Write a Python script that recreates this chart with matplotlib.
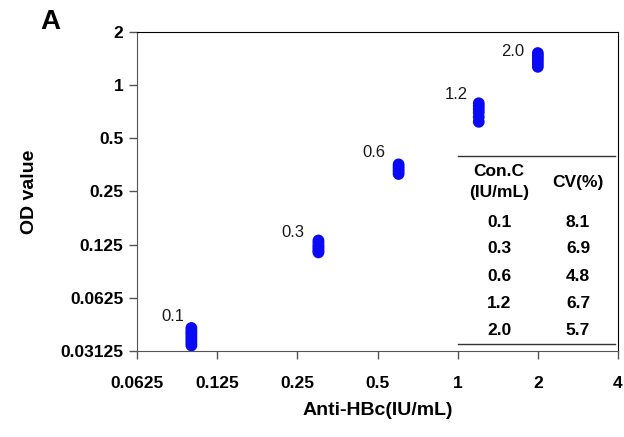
import numpy as np
import matplotlib
matplotlib.use('Agg')
import matplotlib.pyplot as plt
from matplotlib.ticker import FixedLocator, FixedFormatter, NullLocator

plt.rcParams['font.family'] = ['Liberation Sans', 'DejaVu Sans']

# replicate OD readings for each concentration
conc = [0.1, 0.3, 0.6, 1.2, 2.0]
conc_labels = ['0.1', '0.3', '0.6', '1.2', '2.0']
od_values = [
	[0.0422, 0.0408, 0.0396, 0.0385, 0.0372, 0.0360, 0.0348, 0.0336],
	[0.132, 0.128, 0.124, 0.121, 0.118, 0.115, 0.113],
	[0.356, 0.345, 0.335, 0.325, 0.314],
	[0.79, 0.76, 0.73, 0.70, 0.66, 0.62],
	[1.52, 1.47, 1.42, 1.37, 1.32, 1.27],
]
cv_values = ['8.1', '6.9', '4.8', '6.7', '5.7']

xticks = [0.0625, 0.125, 0.25, 0.5, 1, 2, 4]
xtick_labels = ['0.0625', '0.125', '0.25', '0.5', '1', '2', '4']
yticks = [0.03125, 0.0625, 0.125, 0.25, 0.5, 1, 2]
ytick_labels = ['0.03125', '0.0625', '0.125', '0.25', '0.5', '1', '2']

# label offsets (points) from the top dot of each cluster
label_offsets = [(-5, 8), (-10, 6), (-9.5, 8.5), (-8, 6), (-10, 1)]

fig = plt.figure(figsize=(6.24, 4.37), dpi=100)
ax = fig.add_axes([0.2196, 0.1968, 0.7708, 0.7300])

for c, lab, vals, off in zip(conc, conc_labels, od_values, label_offsets):
	ax.scatter([c]*len(vals), vals, s=72, color='#0a0af5', edgecolors='none', zorder=3)
	ax.annotate(lab, (c, max(vals)), xytext=off, textcoords='offset points',
		ha='right', va='center', fontsize=12, color='#1a1a1a')

ax.set_xscale('log', base=2)
ax.set_yscale('log', base=2)
ax.set_xlim(0.0625, 4)
ax.set_ylim(0.03125, 2)

ax.xaxis.set_major_locator(FixedLocator(xticks))
ax.xaxis.set_major_formatter(FixedFormatter(xtick_labels))
ax.yaxis.set_major_locator(FixedLocator(yticks))
ax.yaxis.set_major_formatter(FixedFormatter(ytick_labels))
ax.xaxis.set_minor_locator(NullLocator())
ax.yaxis.set_minor_locator(NullLocator())

ax.tick_params(axis='both', direction='out', length=6, width=1, color='#555555',
	labelsize=12.5, pad=4)
for lab in ax.get_xticklabels() + ax.get_yticklabels():
	lab.set_fontweight('bold')
ax.tick_params(axis='x', pad=12)

for side in ['left', 'bottom']:
	ax.spines[side].set_color('#555555')
for side in ['top', 'right']:
	ax.spines[side].set_color('black')

ax.set_xlabel('Anti-HBc(IU/mL)', fontsize=14, fontweight='bold')
ax.set_ylabel('OD value', fontsize=14, fontweight='bold')
ax.xaxis.set_label_coords(0.501, -0.160)
ax.yaxis.set_label_coords(-0.205, 0.5)

fig.text(40/624, 1 - 29/437, 'A', fontsize=20, fontweight='bold', va='baseline')

# CV table inside the axes
tx1, tx2 = 0.7526, 0.9168
ax.plot([0.668, 0.993], [0.610, 0.610], transform=ax.transAxes, color='#333333', lw=1, clip_on=False)
ax.plot([0.668, 0.993], [0.0225, 0.0225], transform=ax.transAxes, color='#333333', lw=1, clip_on=False)
ax.text(tx1, 0.562, 'Con.C', transform=ax.transAxes, ha='center', va='center', fontsize=12.5, fontweight='bold')
ax.text(tx1, 0.496, '(IU/mL)', transform=ax.transAxes, ha='center', va='center', fontsize=12.5, fontweight='bold')
ax.text(tx2, 0.528, 'CV(%)', transform=ax.transAxes, ha='center', va='center', fontsize=12.5, fontweight='bold')
row_y = [0.404, 0.320, 0.235, 0.150, 0.063]
for y, lab, cv in zip(row_y, conc_labels, cv_values):
	ax.text(tx1, y, lab, transform=ax.transAxes, ha='center', va='center', fontsize=12.5, fontweight='bold')
	ax.text(tx2, y, cv, transform=ax.transAxes, ha='center', va='center', fontsize=12.5, fontweight='bold')

fig.savefig('out.png', dpi=100)
